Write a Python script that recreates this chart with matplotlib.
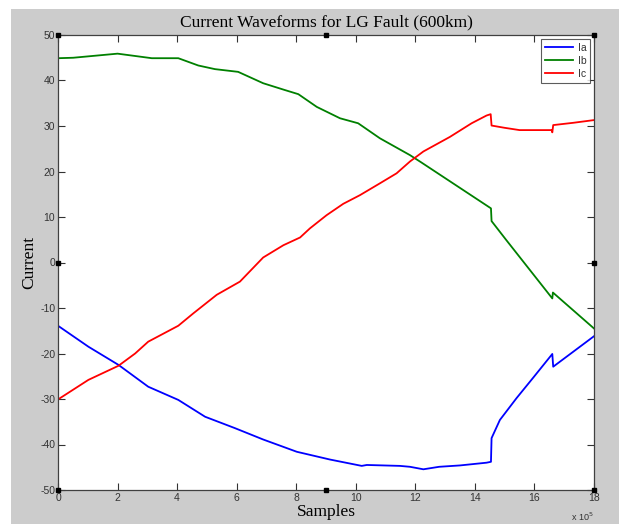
import matplotlib.pyplot as plt
from matplotlib.patches import Rectangle

# sample index in units of 1e5
ia_x = [0, 1.02, 2.03, 3.03, 4.04, 4.94, 5.94, 6.89, 8.02, 9.13, 10.2, 10.37, 11.48, 11.82,
        12.27, 12.8, 13.5, 14.39, 14.54, 14.56, 14.84, 15.4, 15.96, 16.6, 16.63, 18]
ia_y = [-13.9, -18.5, -22.5, -27.3, -30.2, -33.9, -36.4, -38.9, -41.6, -43.3, -44.7, -44.5, -44.7, -44.9,
        -45.45, -44.9, -44.6, -44.0, -43.8, -38.6, -34.6, -29.8, -25.3, -20.1, -22.9, -16.2]

ib_x = [0, 0.51, 2.0, 3.15, 4.04, 4.71, 5.27, 6.05, 6.89, 7.62, 8.07, 8.69, 9.47, 10.08,
        10.81, 11.82, 12.2, 14.54, 14.56, 15.04, 16.6, 16.62, 18]
ib_y = [44.9, 45.0, 45.9, 44.9, 44.9, 43.3, 42.5, 41.9, 39.4, 37.9, 37.0, 34.2, 31.7, 30.6,
        27.3, 23.6, 22.0, 11.9, 9.1, 5.05, -7.9, -6.6, -14.5]

ic_x = [0, 1.02, 2.03, 2.59, 3.03, 4.04, 4.54, 5.33, 6.11, 6.89, 7.57, 8.13, 8.46, 9.02,
        9.58, 10.14, 10.81, 11.37, 11.82, 12.27, 13.16, 13.89, 14.39, 14.53, 14.56, 15.0,
        15.5, 16.58, 16.6, 16.63, 17.3, 18]
ic_y = [-30.1, -25.8, -22.7, -20.0, -17.4, -13.9, -11.2, -7.1, -4.2, 1.1, 3.8, 5.5, 7.5, 10.4,
        12.9, 14.8, 17.4, 19.6, 22.2, 24.4, 27.6, 30.6, 32.3, 32.6, 30.1, 29.6,
        29.1, 29.1, 28.6, 30.2, 30.7, 31.3]

xticks = list(range(0, 19, 2))
yticks = list(range(-50, 51, 10))

fig = plt.figure(figsize=(6.19, 5.24), dpi=100)
fig.patch.set_facecolor('white')
# grey window background, kept behind the axes
fig.patches.append(Rectangle((11 / 619, 0), 1 - 11 / 619, 1 - 9 / 524,
                             transform=fig.transFigure, facecolor='#cccccc',
                             edgecolor='none', zorder=-10))

ax = fig.add_axes([58 / 619, 34 / 524, 536 / 619, 455 / 524])
ax.set_zorder(1)
ax.set_facecolor('white')

ax.plot(ia_x, ia_y, color='#0000ff', lw=1.3, label='Ia')
ax.plot(ib_x, ib_y, color='#008000', lw=1.3, label='Ib')
ax.plot(ic_x, ic_y, color='#ff0000', lw=1.3, label='Ic')

ax.set_xlim(0, 18)
ax.set_ylim(-50, 50)
ax.set_xticks(xticks)
ax.set_yticks(yticks)
ax.set_xticklabels([str(t) for t in xticks])
ax.set_yticklabels([str(t) for t in yticks])
ax.tick_params(direction='in', length=5, width=0.8, color='#333333',
               top=True, right=True, labelsize=7.5, labelcolor='#333333', pad=2)
for lab in ax.get_xticklabels() + ax.get_yticklabels():
    lab.set_family('Liberation Sans')
for s in ax.spines.values():
    s.set_color('#404040')
    s.set_linewidth(0.9)

ax.set_title('Current Waveforms for LG Fault (600km)', family='Liberation Serif',
             fontsize=12.5, pad=6)
ax.set_xlabel('Samples', family='Liberation Serif', fontsize=12.5, labelpad=1)
ax.set_ylabel('Current', family='Liberation Serif', fontsize=12.5, labelpad=2)
ax.text(1.0, -0.058, r'x 10$^5$', transform=ax.transAxes, ha='right', va='center',
        fontsize=6.5, family='Liberation Sans', color='#333333')

# selection handles
hx = [0, 0.5, 1, 0, 1, 0, 0.5, 1]
hy = [1, 1, 1, 0.5, 0.5, 0, 0, 0]
ax.plot(hx, hy, 's', color='black', ms=3.2, transform=ax.transAxes, clip_on=False, zorder=5)

leg = ax.legend(loc='upper right', fancybox=False, frameon=True,
                handlelength=2.7, handletextpad=0.4, borderpad=0.4, labelspacing=0.3,
                borderaxespad=0.35, prop={'family': 'Liberation Sans', 'size': 7.5})
leg.get_frame().set_edgecolor('#333333')
leg.get_frame().set_linewidth(0.8)
for t in leg.get_texts():
    t.set_color('#333333')

fig.savefig('out.png', dpi=100)
